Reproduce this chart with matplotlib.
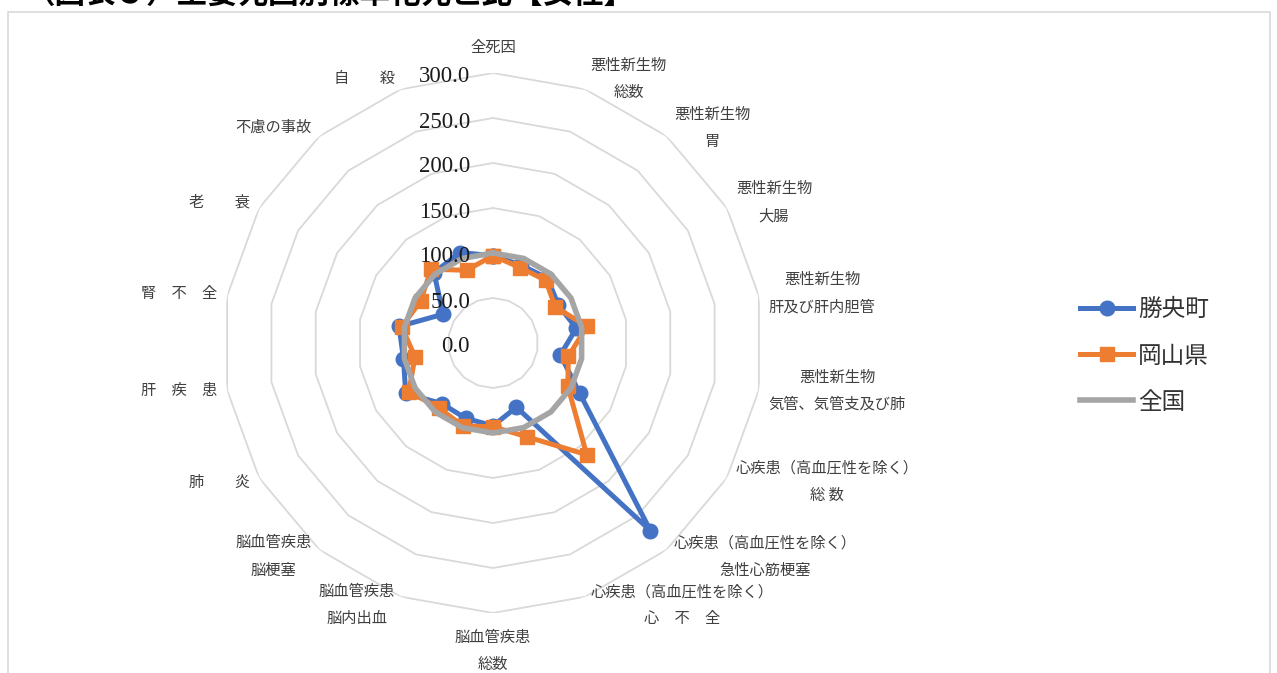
import numpy as np
import matplotlib
matplotlib.use("Agg")
import matplotlib.pyplot as plt
from matplotlib.patches import Rectangle

plt.rcParams['font.family'] = ['Noto Sans CJK JP', 'DejaVu Sans']

# ---------------- data ----------------
categories = [
    "全死因",
    "悪性新生物\n総数",
    "悪性新生物\n胃",
    "悪性新生物\n大腸",
    "悪性新生物\n肝及び肝内胆管",
    "悪性新生物\n気管、気管支及び肺",
    "心疾患（高血圧性を除く）\n総 数",
    "心疾患（高血圧性を除く）\n急性心筋梗塞",
    "心疾患（高血圧性を除く）\n心　不　全",
    "脳血管疾患\n総数",
    "脳血管疾患\n脳内出血",
    "脳血管疾患\n脳梗塞",
    "肺　　炎",
    "肝　疾　患",
    "腎　不　全",
    "老　　衰",
    "不慮の事故",
    "自　　殺",
]
shouo = [97, 92, 94, 84, 94, 76, 111, 272, 76, 92, 89, 88, 112, 101, 106, 64, 102, 107]
okayama = [97, 89, 91, 80, 106, 85, 96, 162, 111, 93, 98, 94, 108, 88, 103, 93, 107, 86]
zenkoku = [100] * 18
series_names = ["勝央町", "岡山県", "全国"]
ring_values = [50, 100, 150, 200, 250, 300]
tick_values = [0, 50, 100, 150, 200, 250, 300]
tick_labels = ["0.0", "50.0", "100.0", "150.0", "200.0", "250.0", "300.0"]
title = "（図表５）主要死因別標準化死亡比【女性】"

# ---------------- figure ----------------
W, H = 1277, 673
fig = plt.figure(figsize=(W / 100, H / 100), dpi=100)

# outer chart border
fig.patches.append(Rectangle((8 / W, -0.1), (1270 - 8) / W, 1.1 - 12 / H,
                             transform=fig.transFigure, fill=False,
                             edgecolor="#D9D9D9", linewidth=1.2))

# title (partially cut off at top, as in the original)
fig.text(25 / W, 1 - 3 / H, title, fontsize=22, fontweight="bold",
         color="black", va="baseline", ha="left")

cx, cy, R = 493, 343, 270
ax = fig.add_axes([(cx - R) / W, (H - cy - R) / H, 2 * R / W, 2 * R / H],
                  projection="polar")
ax.set_theta_offset(np.pi / 2)
ax.set_theta_direction(-1)
ax.set_ylim(0, 300)
ax.grid(False)
ax.set_xticks([])
ax.set_yticks([])
ax.spines["polar"].set_visible(False)
ax.patch.set_alpha(0)

n = len(categories)
theta = np.arange(n) * 2 * np.pi / n
theta_c = np.append(theta, theta[0])

# grid rings
for rv in ring_values:
    ax.plot(theta_c, [rv] * (n + 1), color="#D9D9D9", lw=1.3, zorder=1)

def closed(v):
    return list(v) + [v[0]]

ax.plot(theta_c, closed(shouo), color="#4472C4", lw=3.6, marker="o",
        ms=10.5, zorder=3, clip_on=False, label=series_names[0])
ax.plot(theta_c, closed(okayama), color="#ED7D31", lw=3.6, marker="s",
        ms=10.5, zorder=4, clip_on=False, label=series_names[1])
ax.plot(theta_c, closed(zenkoku), color="#A5A5A5", lw=4, zorder=5,
        clip_on=False, label=series_names[2])

# radial tick labels
px = 0.72  # points per pixel
for tv, tl in zip(tick_values, tick_labels):
    ax.annotate(tl, xy=(0, tv), xytext=(-23 * px, -4 * px),
                textcoords="offset points", ha="right", va="center",
                fontsize=16.5, family="Liberation Serif", color="#1a1a1a",
                zorder=6)

# category labels
for th, lab in zip(theta, categories):
    s, c = np.sin(th), np.cos(th)
    if abs(s) < 1e-6:
        ha = "center"
        dx = 0
        dy = 26 if c > 0 else -38
    else:
        ha = "left" if s > 0 else "right"
        dx = (3 + 7 * abs(s)) * np.sign(s)
        dy = 10 * c + 1
    ax.annotate(lab, xy=(th, 300), xytext=(dx * px, dy * px),
                textcoords="offset points", ha=ha, va="center",
                multialignment="center", linespacing=1.78,
                fontsize=11, color="#404040", annotation_clip=False)

leg = fig.legend(loc="center left", bbox_to_anchor=(1080 / W, 1 - 356 / H),
                 bbox_transform=fig.transFigure, frameon=False,
                 fontsize=17, handlelength=2.25, handletextpad=0.2,
                 labelspacing=0.98, borderpad=0, borderaxespad=0,
                 labelcolor="#333333")

fig.savefig("out.png", dpi=100)
